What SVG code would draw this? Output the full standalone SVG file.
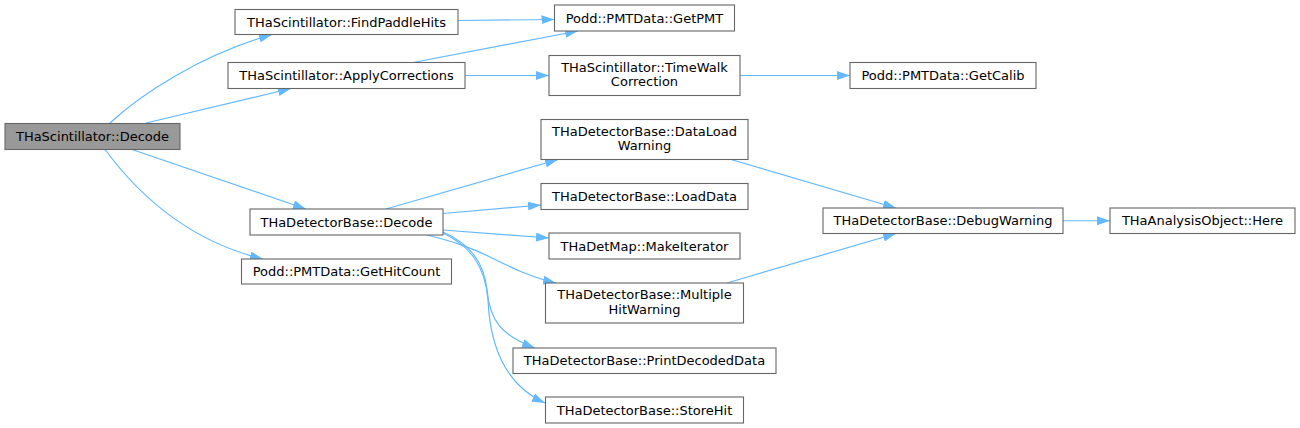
<svg xmlns="http://www.w3.org/2000/svg" width="1300" height="428" viewBox="0 0 1300 428">
<style>
.node rect{fill:#ffffff;stroke:#666666;stroke-width:1.1}
.root rect{fill:#999999}
text{font-family:"DejaVu Sans","Liberation Sans",sans-serif;font-size:13px;text-anchor:middle;fill:#000000}
.edges path{fill:none;stroke:#63b8ff;stroke-width:1.2;marker-end:url(#arr)}
</style>
<defs>
<marker id="arr" markerWidth="13" markerHeight="9" refX="13" refY="4.5" orient="auto" markerUnits="userSpaceOnUse"><path d="M0,0 L13,4.5 L0,9z" fill="#63b8ff" stroke="none"/></marker>
</defs>
<rect width="1300" height="428" fill="#ffffff"/>
<g id="edges" class="edges">
<path d="M110,123 C140,95 200,55 272,34.5"/>
<path d="M146,123 L291,88.5"/>
<path d="M132,149.5 L306,209"/>
<path d="M105,149.5 C135,190 185,240 263,259"/>
<path d="M458,20.5 L554.5,19.5"/>
<path d="M413,62.5 L578,31"/>
<path d="M465,75.5 L549,75.5"/>
<path d="M740,75.5 L850,75.5"/>
<path d="M386,209 L558,159.5"/>
<path d="M443,213.5 L541,205"/>
<path d="M443,230 L549,238"/>
<path d="M425,234.5 C455,242 470,247 490,257 C510,267 530,277 556,283"/>
<path d="M443,232 C470,244 484,262 487,290 C490,320 500,335 535,348"/>
<path d="M443,233 C470,246 485,265 488,300 C490,345 505,385 545,403"/>
<path d="M731,159.5 L896,208"/>
<path d="M727,283 L896,233.5"/>
<path d="M1063,220.75 L1110,220.75"/>
</g>
<g id="n0" class="node root"><rect x="5" y="123.5" width="175" height="26"/><text x="92.5" y="141">THaScintillator::Decode</text></g>
<g id="n1" class="node"><rect x="235" y="9.5" width="223" height="25"/><text x="346.5" y="26.5">THaScintillator::FindPaddleHits</text></g>
<g id="n2" class="node"><rect x="228" y="62.5" width="237" height="26"/><text x="346.5" y="80">THaScintillator::ApplyCorrections</text></g>
<g id="n3" class="node"><rect x="554.5" y="5" width="180" height="26"/><text x="644.5" y="22.5">Podd::PMTData::GetPMT</text></g>
<g id="n4" class="node"><rect x="549" y="55.5" width="191" height="40"/><text x="644.5" y="71.7">THaScintillator::TimeWalk</text><text x="644.5" y="86.3">Correction</text></g>
<g id="n5" class="node"><rect x="850" y="62.5" width="186" height="26"/><text x="943" y="80">Podd::PMTData::GetCalib</text></g>
<g id="n6" class="node"><rect x="250" y="209" width="193" height="26"/><text x="346.5" y="226.5">THaDetectorBase::Decode</text></g>
<g id="n7" class="node"><rect x="241.5" y="259" width="210" height="25"/><text x="346.5" y="276">Podd::PMTData::GetHitCount</text></g>
<g id="n8" class="node"><rect x="541" y="119.5" width="207" height="40"/><text x="644.5" y="135.7">THaDetectorBase::DataLoad</text><text x="644.5" y="150.3">Warning</text></g>
<g id="n9" class="node"><rect x="541" y="183.5" width="207" height="26"/><text x="644.5" y="201">THaDetectorBase::LoadData</text></g>
<g id="n10" class="node"><rect x="549" y="233" width="191" height="26"/><text x="644.5" y="250.5">THaDetMap::MakeIterator</text></g>
<g id="n11" class="node"><rect x="545.5" y="283" width="198" height="40"/><text x="644.5" y="299.2">THaDetectorBase::Multiple</text><text x="644.5" y="313.8">HitWarning</text></g>
<g id="n12" class="node"><rect x="513" y="348" width="263" height="25.5"/><text x="644.5" y="365.3">THaDetectorBase::PrintDecodedData</text></g>
<g id="n13" class="node"><rect x="545.5" y="397" width="198" height="26"/><text x="644.5" y="414.5">THaDetectorBase::StoreHit</text></g>
<g id="n14" class="node"><rect x="823" y="208" width="240" height="25.5"/><text x="943" y="225.3">THaDetectorBase::DebugWarning</text></g>
<g id="n15" class="node"><rect x="1110" y="208" width="185" height="25.5"/><text x="1202.5" y="225.3">THaAnalysisObject::Here</text></g>
</svg>
